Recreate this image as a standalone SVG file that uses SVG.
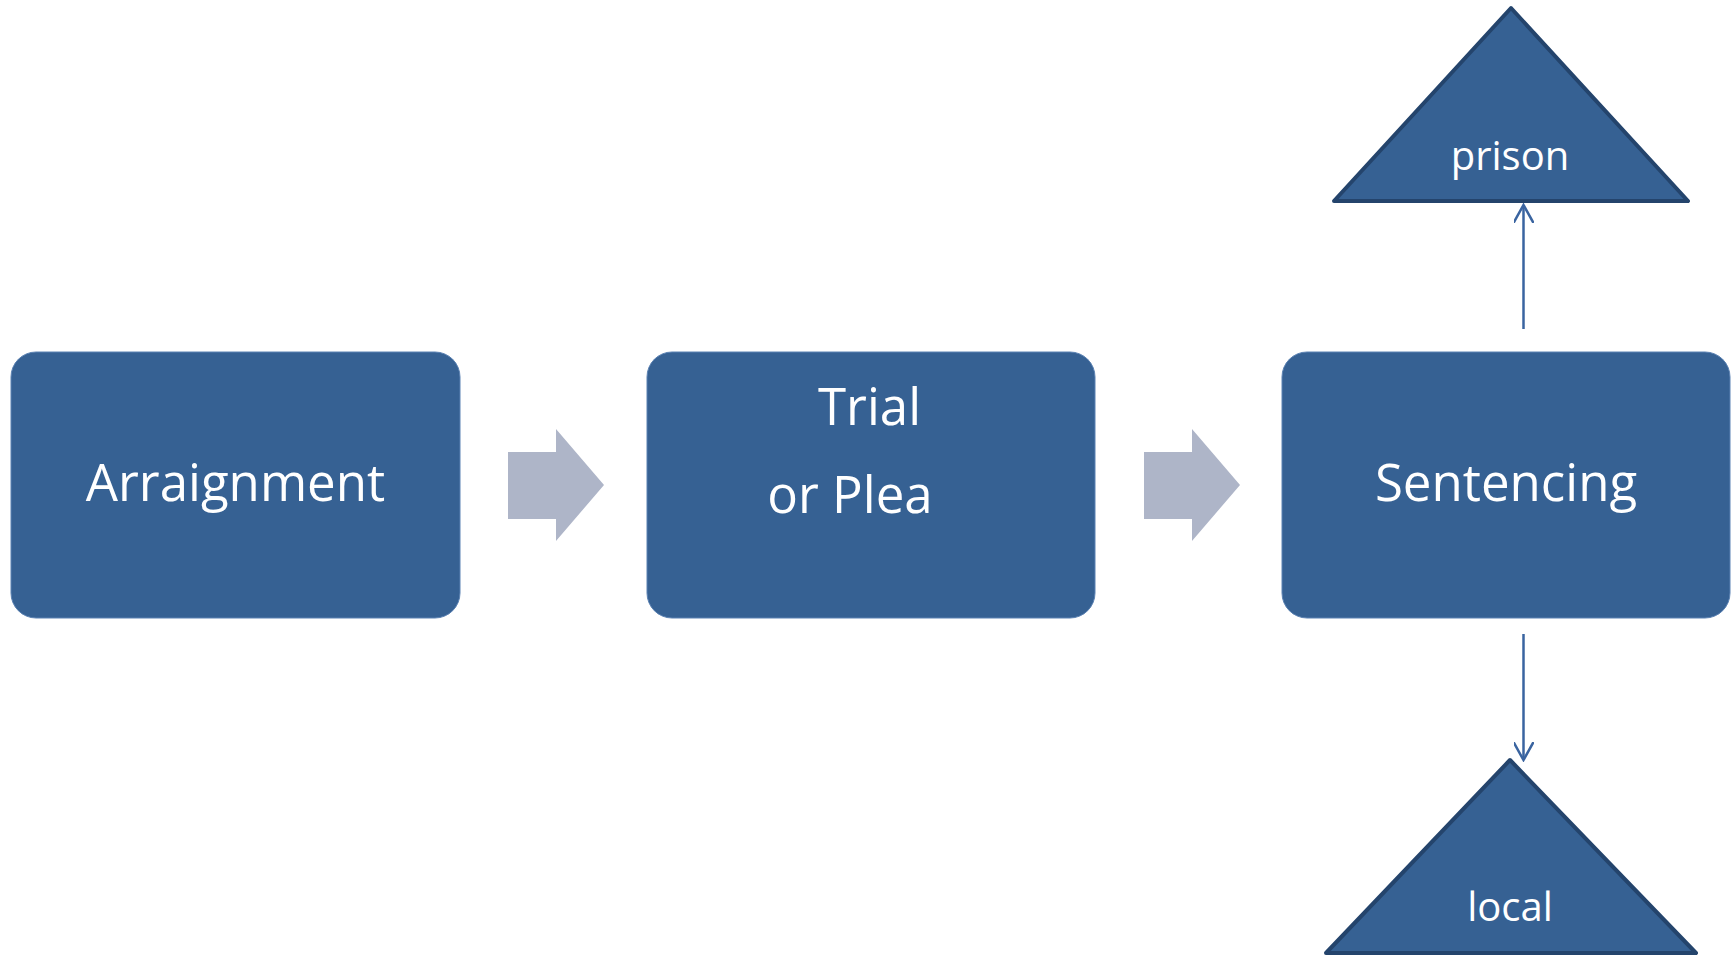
<svg xmlns="http://www.w3.org/2000/svg" width="1735" height="955" viewBox="0 0 1735 955">
<style>
.box{fill:#366193;stroke:#5b82b3;stroke-width:1}
.tri{fill:#366193;stroke:#24446c;stroke-width:4;stroke-linejoin:round}
.blk{fill:#aeb5c8}
.lbl{font-family:"Open Sans","Noto Sans",sans-serif;fill:#ffffff;text-anchor:middle}
.big{font-size:51px}
.sm{font-size:40px}
.con{stroke:#3a64a0;stroke-width:2.5;fill:none}
</style>
<defs>
<marker id="open" viewBox="0 0 20 20" refX="18" refY="10" markerWidth="20" markerHeight="20" markerUnits="userSpaceOnUse" orient="auto">
<path d="M0,0 L18,10 L0,20" fill="none" stroke="#3a64a0" stroke-width="2.5"/>
</marker>
</defs>
<rect width="1735" height="955" fill="#ffffff"/>
<g id="arraignment">
<rect class="box" x="11" y="352" width="449" height="266" rx="25"/>
<text class="lbl big" x="235.5" y="501">Arraignment</text>
</g>
<g id="trial">
<rect class="box" x="647" y="352" width="448" height="266" rx="25"/>
<text class="lbl big" x="869.5" y="425">Trial</text>
<text class="lbl big" x="850" y="513">or Plea</text>
</g>
<g id="sentencing">
<rect class="box" x="1282" y="352" width="448" height="266" rx="25"/>
<text class="lbl big" x="1506" y="501">Sentencing</text>
</g>
<g id="prison">
<polygon class="tri" points="1511,8 1688,201 1334,201"/>
<text class="lbl sm" x="1510" y="170">prison</text>
</g>
<g id="local">
<polygon class="tri" points="1510,760 1696,953 1326,953"/>
<text class="lbl sm" x="1510" y="921">local</text>
</g>
<g id="connectors">
<polygon class="blk" points="508,452 556,452 556,429 604,485 556,541 556,519 508,519"/>
<polygon class="blk" points="1144,452 1192,452 1192,429 1240,485 1192,541 1192,519 1144,519"/>
<line class="con" x1="1523.5" y1="329" x2="1523.5" y2="205" marker-end="url(#open)"/>
<line class="con" x1="1523.5" y1="634" x2="1523.5" y2="760" marker-end="url(#open)"/>
</g>
</svg>
